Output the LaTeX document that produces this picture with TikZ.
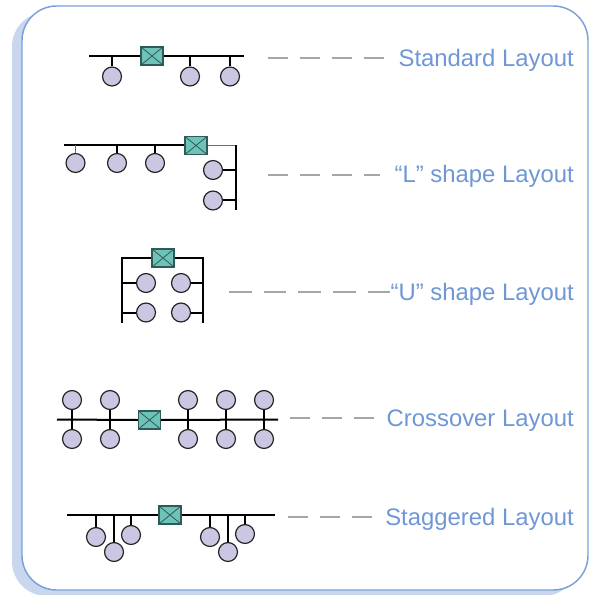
\documentclass[tikz,border=0pt]{standalone}
\usepackage{fontspec}
\setmainfont{Liberation Sans}
\definecolor{swfill}{HTML}{6EC3B9}
\definecolor{swedge}{HTML}{2E5A57}
\definecolor{pcfill}{HTML}{CBC7E3}
\definecolor{pcedge}{HTML}{222222}
\definecolor{leadgray}{HTML}{A6A6A6}
\definecolor{lblblue}{HTML}{6F97D6}
\definecolor{frameblue}{HTML}{7AA0DA}
\definecolor{shadowblue}{HTML}{C8D7EE}
\definecolor{midgray}{HTML}{6E6E6E}
\begin{document}
\begin{tikzpicture}[x=0.75pt,y=-0.75pt,
  sw/.style={draw=swedge, fill=swfill, line width=0.8pt, minimum width=16.5pt,
    minimum height=13.5pt, inner sep=0pt,
    path picture={\draw[swedge, line width=0.6pt]
      (path picture bounding box.north west) -- (path picture bounding box.south east)
      (path picture bounding box.south west) -- (path picture bounding box.north east);}},
  pc/.style={circle, draw=pcedge, fill=pcfill, line width=0.9pt, minimum size=14.2pt, inner sep=0pt},
  bus/.style={line width=1.5pt, black},
  thin/.style={line width=1.4pt, midgray},
  lead/.style={draw=leadgray, line width=2pt, dash pattern=on 15pt off 9pt},
  lbl/.style={text=lblblue, font=\fontsize{17.9}{20}\selectfont, inner sep=0pt, anchor=base east}]
\useasboundingbox (0,0) rectangle (592,595);

% frame with its shadow
\fill[shadowblue, rounded corners=26pt] (12,12) rectangle (578,596);
\draw[frameblue, fill=white, line width=1.1pt, rounded corners=26pt] (22,6) rectangle (588,590);

% ---------- Standard layout ----------
\node[sw] (s0) at (152,56) {};
\coordinate (sa) at (89,56);
\coordinate (sb) at (244,56);
\node[pc] (s1) at (112,76.5) {};
\node[pc] (s2) at (190,76.5) {};
\node[pc] (s3) at (230,76.5) {};
\draw[bus] (sa) -- (s0.west) (s0.east) -- (sb);
\foreach \c in {s1,s2,s3} \draw[bus] (\c.north) -- (\c.north |- sa);

% ---------- L shape layout ----------
\node[sw] (l0) at (196,145.5) {};
\coordinate (la) at (64,145.5);
\coordinate (lc) at (236,145.5);
\coordinate (ld) at (236,210);
\node[pc] (l1) at (75.5,163) {};
\node[pc] (l2) at (117,163) {};
\node[pc] (l3) at (155,163) {};
\node[pc] (l4) at (213,170) {};
\node[pc] (l5) at (213,200.5) {};
\draw[bus] (la) -- (l0.west);
\draw[thin] (l0.east) -- (lc);
\draw[bus] (lc) -- (ld);
\draw[thin] (l1.north) -- (l1.north |- la);
\foreach \c in {l2,l3} \draw[bus] (\c.north) -- (\c.north |- la);
\foreach \c in {l4,l5} \draw[bus] (\c.east) -- (\c.east -| lc);

% ---------- U shape layout ----------
\node[sw] (u0) at (163,258) {};
\coordinate (ua) at (122,258);
\coordinate (ub) at (203,258);
\coordinate (uc) at (122,323);
\coordinate (ud) at (203,323);
\node[pc] (u1) at (146,283) {};
\node[pc] (u2) at (181,283) {};
\node[pc] (u3) at (146,312.5) {};
\node[pc] (u4) at (181,312.5) {};
\draw[bus] (uc) -- (ua) -- (u0.west) (u0.east) -- (ub) -- (ud);
\foreach \c in {u1,u3} \draw[bus] (\c.west) -- (\c.west -| ua);
\foreach \c in {u2,u4} \draw[bus] (\c.east) -- (\c.east -| ub);

% ---------- Crossover layout ----------
\node[sw] (c0) at (149.5,420) {};
\coordinate (ca) at (57,419.5);
\coordinate (cb) at (278,419.5);
\draw[bus] (ca) -- (c0.west) (c0.east) -- (cb);
\foreach \i/\x in {1/72,2/110,3/188,4/226,5/264} {
  \node[pc] (ct\i) at (\x,400) {};
  \node[pc] (cd\i) at (\x,439) {};
  \draw[bus] (ct\i.south) -- (cd\i.north);
}

% ---------- Staggered layout ----------
\node[sw] (g0) at (170,515) {};
\coordinate (ga) at (67,515);
\coordinate (gb) at (275,515);
\draw[bus] (ga) -- (g0.west) (g0.east) -- (gb);
\foreach \i/\x/\y in {1/96/537,2/114/552,3/131/535,4/210/537,5/228/552,6/245/534} {
  \node[pc] (g\i) at (\x,\y) {};
  \draw[bus] (g\i.north) -- (g\i.north |- ga);
}

% ---------- labels and leader lines ----------
\node[lbl] (t1) at (574,67) {Standard Layout};
\node[lbl] (t2) at (574,182.5) {“L” shape Layout};
\node[lbl] (t3) at (574,300) {“U” shape Layout};
\node[lbl] (t4) at (574,426.5) {Crossover Layout};
\node[lbl] (t5) at (574,525) {Staggered Layout};
\coordinate (d1) at (268,58);
\coordinate (d2) at (268,175);
\coordinate (d3) at (229,292);
\coordinate (d4) at (290,418);
\coordinate (d5) at (288,517);
\coordinate (e3) at (390,292);
\draw[lead] (d1) -- (d1 -| 388,0);
\draw[lead] (d2) -- (d2 -| 380,0);
% five dashes, the last one running into the text
\draw[lead, dash pattern=on 17pt off 9pt] (d3) -- (e3);
\draw[lead] (d4) -- (d4 -| 376,0);
\draw[lead] (d5) -- (d5 -| 376,0);
\end{tikzpicture}
\end{document}
